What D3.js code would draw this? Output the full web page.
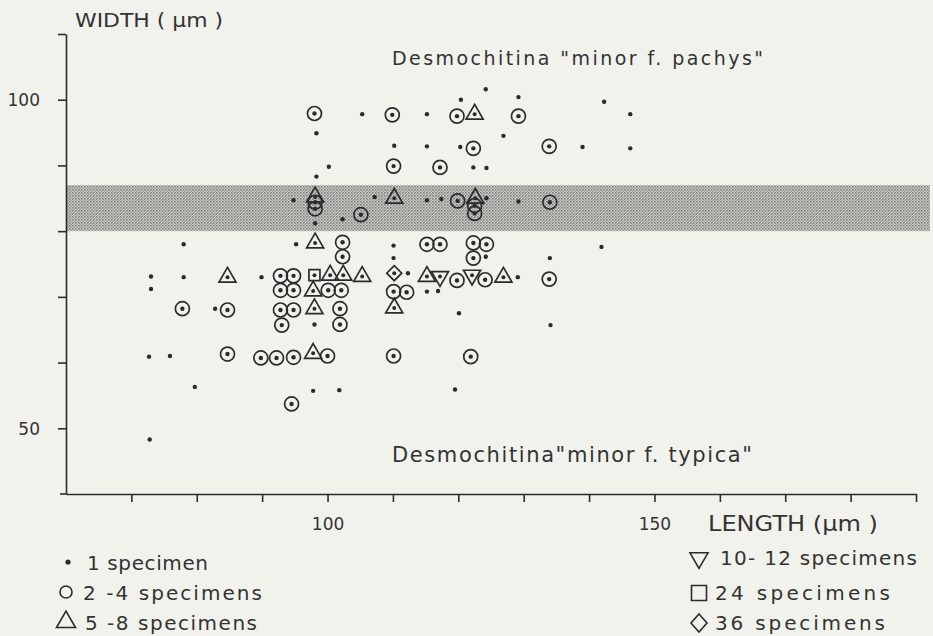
<!DOCTYPE html>
<html>
<head>
<meta charset="utf-8">
<script src="https://cdn.jsdelivr.net/npm/d3@7"></script>
<style>
  body { margin: 0; background: #f2f2ed; }
  svg { display: block; }
  text { font-family: "DejaVu Sans", sans-serif; fill: #333; }
</style>
</head>
<body>
<svg id="viz"></svg>
<script>
// measurements [length, width] in micrometres, grouped by number of specimens
var dots = [
  [124.2, 101.6], [120.4, 100.0], [129.2, 100.4], [142.3, 99.7], [105.3, 97.8], [115.2, 97.8], [146.3, 97.8],
  [98.3, 94.9], [126.9, 94.5], [110.2, 93.0], [115.2, 92.9], [120.3, 92.8], [139.0, 92.8], [146.3, 92.6],
  [100.2, 89.8], [122.3, 89.7], [124.3, 89.6], [98.3, 88.3],
  [94.8, 84.7], [107.2, 85.2], [115.2, 84.7], [117.4, 84.9], [124.3, 85.0], [129.2, 84.5],
  [102.3, 81.8], [98.1, 81.2],
  [78.0, 78.0], [95.2, 78.0], [110.1, 77.8], [141.9, 77.6],
  [110.1, 75.9], [124.2, 76.1], [134.0, 75.9],
  [73.0, 73.1], [78.0, 73.0], [89.9, 73.0], [112.3, 73.6], [129.1, 73.0],
  [73.0, 71.2], [115.2, 70.8], [116.9, 70.9],
  [82.8, 68.2], [120.1, 67.5], [98.0, 65.8], [134.1, 65.7],
  [72.7, 60.9], [75.9, 61.0],
  [79.7, 56.3], [97.8, 55.7], [101.8, 55.8], [119.5, 55.9],
  [72.8, 48.3]
];
var circles = [
  [98.0, 97.9], [109.9, 97.7], [119.8, 97.5], [129.2, 97.5],
  [122.3, 92.6], [133.9, 92.9],
  [110.1, 89.9], [117.2, 89.7],
  [98.1, 84.4], [98.1, 83.4], [105.1, 82.5], [119.9, 84.6], [122.5, 83.9], [122.5, 82.7], [134.0, 84.4],
  [102.3, 78.3], [102.3, 76.1], [115.2, 78.0], [117.2, 78.0], [122.3, 78.2], [124.3, 78.0], [122.3, 75.9],
  [92.8, 73.2], [94.8, 73.2], [119.8, 72.5], [124.1, 72.6], [133.9, 72.7],
  [92.8, 71.0], [94.8, 71.0], [100.1, 71.0], [102.1, 71.0], [110.1, 70.8], [112.1, 70.7],
  [77.8, 68.2], [84.7, 68.0], [92.8, 68.0], [94.8, 68.0], [101.9, 68.2],
  [93.0, 65.7], [101.9, 65.8],
  [84.7, 61.3], [89.8, 60.7], [92.2, 60.7], [94.8, 60.8], [100.0, 61.0], [110.1, 61.0], [121.9, 60.9],
  [94.5, 53.7]
];
var triangles = [
  [122.5, 97.8], [98.1, 85.2], [110.2, 85.0], [122.6, 85.0], [98.1, 78.2],
  [84.7, 73.0], [100.4, 73.3], [102.4, 73.3], [105.3, 73.1], [115.2, 73.1], [126.9, 73.0],
  [97.8, 70.9], [98.0, 68.2], [110.2, 68.3], [97.8, 61.4]
];
var trianglesDown = [[117.2, 73.1], [122.1, 73.3]];
var squares = [[98.0, 73.3]];
var diamonds = [[110.2, 73.6]];

// "pachys" / "typica" boundary band
var band = [80, 87];

var xTicks = [70, 80, 90, 100, 110, 120, 130, 140, 150, 160, 170, 180, 190];
var xLabels = [100, 150];
var yTicks = [50, 60, 70, 80, 90, 100, 110];
var yLabels = [50, 100];

var legendLeft = [['dot', '1 specimen'], ['circle', '2 -4 specimens'], ['tri', '5 -8 specimens']];
var legendRight = [['triDown', '10- 12 specimens'], ['square', '24 specimens'], ['diamond', '36 specimens']];

var width = 933, height = 636;
var ink = '#2b2b2b';

var svg = d3.select('#viz').attr('width', width).attr('height', height);
svg.append('rect').attr('width', width).attr('height', height).attr('fill', '#f2f2ed');

var x = d3.scaleLinear().domain([60, 190]).range([66, 916]);
var y = d3.scaleLinear().domain([40, 110]).range([494, 34]);

// halftone screen for the band
var pat = svg.append('defs').append('pattern')
  .attr('id', 'screen').attr('width', 3).attr('height', 3)
  .attr('patternUnits', 'userSpaceOnUse');
pat.append('rect').attr('width', 3).attr('height', 3).attr('fill', '#cfcfca');
pat.append('rect').attr('width', 1.6).attr('height', 1.6).attr('fill', '#7d7d7a');
pat.append('rect').attr('x', 1.5).attr('y', 1.5).attr('width', 1.5).attr('height', 1.5).attr('fill', '#9a9a96');

svg.append('rect')
  .attr('x', x(60))
  .attr('y', y(band[1]))
  .attr('width', 930 - x(60))
  .attr('height', y(band[0]) - y(band[1]))
  .attr('fill', 'url(#screen)');

// axes
var xAxis = svg.append('g')
  .attr('transform', 'translate(0,' + y(40) + ')')
  .call(d3.axisBottom(x).tickValues(xTicks).tickSizeInner(8).tickSizeOuter(0)
    .tickFormat(function (d) { return xLabels.indexOf(d) >= 0 ? d : ''; }));
var yAxis = svg.append('g')
  .attr('transform', 'translate(' + x(60) + ',0)')
  .call(d3.axisLeft(y).tickValues(yTicks).tickSizeInner(8).tickSizeOuter(0)
    .tickFormat(function (d) { return yLabels.indexOf(d) >= 0 ? d : ''; }));

[xAxis, yAxis].forEach(function (g) {
  g.selectAll('path, line').attr('stroke', ink).attr('stroke-width', 1.6);
  g.selectAll('text').style('font-family', '"DejaVu Sans", sans-serif')
    .style('font-size', '17px').attr('fill', '#333');
});
xAxis.selectAll('text').attr('dy', '1.45em');
yAxis.selectAll('text').attr('x', -26).attr('dy', '0.36em');
// small overhang of the length axis to the left
svg.append('line')
  .attr('x1', x(60) - 6).attr('x2', x(60))
  .attr('y1', y(40)).attr('y2', y(40))
  .attr('stroke', ink).attr('stroke-width', 1.6);

svg.append('text').attr('x', 75).attr('y', 27)
  .attr('textLength', 148).attr('lengthAdjust', 'spacingAndGlyphs')
  .style('font-size', '19px').text('WIDTH ( μm )');
svg.append('text').attr('x', 708).attr('y', 531)
  .attr('textLength', 170).attr('lengthAdjust', 'spacingAndGlyphs')
  .style('font-size', '22px').text('LENGTH (μm )');

svg.append('text').attr('x', 392).attr('y', 65)
  .attr('textLength', 371).attr('lengthAdjust', 'spacing')
  .style('font-size', '19px').text('Desmochitina "minor f. pachys"');
svg.append('text').attr('x', 392).attr('y', 462)
  .attr('textLength', 360).attr('lengthAdjust', 'spacing')
  .style('font-size', '21px').text('Desmochitina"minor f. typica"');

// marker shapes
function triPath(s, down) {
  var h = s * Math.sqrt(3) / 2;
  var k = down ? -1 : 1;
  return 'M0,' + (-k * h * 2 / 3) + 'L' + (s / 2) + ',' + (k * h / 3) + 'L' + (-s / 2) + ',' + (k * h / 3) + 'Z';
}
function sqPath(s) {
  return 'M' + (-s / 2) + ',' + (-s / 2) + 'h' + s + 'v' + s + 'h' + (-s) + 'Z';
}
function diaPath(w, h) {
  return 'M0,' + (-h / 2) + 'L' + (w / 2) + ',0L0,' + (h / 2) + 'L' + (-w / 2) + ',0Z';
}

var marks = svg.append('g');

function drawShape(data, path) {
  var g = marks.append('g');
  g.selectAll('path')
    .data(data)
    .join('path')
    .attr('d', path)
    .attr('transform', function (d) { return 'translate(' + x(d[0]) + ',' + y(d[1]) + ')'; })
    .attr('fill', 'none')
    .attr('stroke', ink)
    .attr('stroke-width', 1.7);
  g.selectAll('circle')
    .data(data)
    .join('circle')
    .attr('cx', function (d) { return x(d[0]); })
    .attr('cy', function (d) { return y(d[1]); })
    .attr('r', 2)
    .attr('fill', ink);
}

marks.append('g').selectAll('circle')
  .data(circles)
  .join('circle')
  .attr('cx', function (d) { return x(d[0]); })
  .attr('cy', function (d) { return y(d[1]); })
  .attr('r', 7)
  .attr('fill', 'none')
  .attr('stroke', ink)
  .attr('stroke-width', 1.7);
marks.append('g').selectAll('circle')
  .data(circles.concat(dots))
  .join('circle')
  .attr('cx', function (d) { return x(d[0]); })
  .attr('cy', function (d) { return y(d[1]); })
  .attr('r', 2.2)
  .attr('fill', ink);

drawShape(triangles, triPath(17, false));
drawShape(trianglesDown, triPath(17, true));
drawShape(squares, sqPath(11));
drawShape(diamonds, diaPath(15, 15));

// legend
function legendSymbol(g, kind) {
  if (kind == 'dot') {
    g.append('circle').attr('r', 2.6).attr('fill', ink);
  } else if (kind == 'circle') {
    g.append('circle').attr('r', 6).attr('fill', 'none').attr('stroke', ink).attr('stroke-width', 1.6);
  } else {
    var d = kind == 'tri' ? triPath(19, false)
      : kind == 'triDown' ? triPath(18, true)
      : kind == 'square' ? sqPath(15)
      : diaPath(16, 18);
    g.append('path').attr('d', d).attr('fill', 'none').attr('stroke', ink).attr('stroke-width', 1.6);
  }
}

var leftRows = [562, 592, 622];
var leftText = [[87, 121], [83, 179], [85, 172]];
legendLeft.forEach(function (item, i) {
  var g = svg.append('g').attr('transform', 'translate(' + (item[0] == 'dot' ? 68 : 66) + ',' + leftRows[i] + ')');
  legendSymbol(g, item[0]);
  svg.append('text').attr('x', leftText[i][0]).attr('y', leftRows[i] + 8)
    .attr('textLength', leftText[i][1]).attr('lengthAdjust', 'spacing')
    .style('font-size', '20px').text(item[1]);
});

var rightRows = [558, 593, 623];
var rightText = [[720, 197], [715, 175], [715, 170]];
legendRight.forEach(function (item, i) {
  var g = svg.append('g').attr('transform', 'translate(699,' + rightRows[i] + ')');
  legendSymbol(g, item[0]);
  svg.append('text').attr('x', rightText[i][0]).attr('y', rightRows[i] + 7)
    .attr('textLength', rightText[i][1]).attr('lengthAdjust', 'spacing')
    .style('font-size', '20px').text(item[1]);
});
</script>
</body>
</html>
